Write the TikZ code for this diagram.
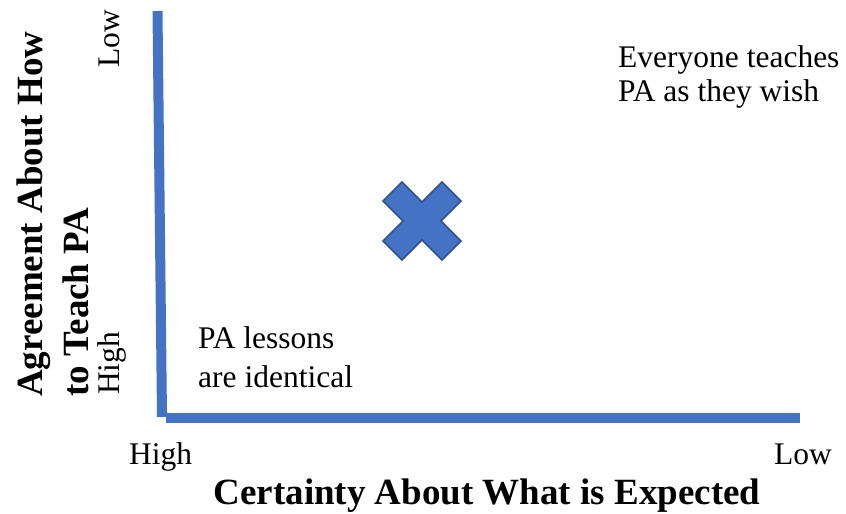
\documentclass[tikz,border=0pt]{standalone}
\usepackage{fontspec}
\setmainfont{Liberation Serif}
\definecolor{axisblue}{HTML}{4472C4}
\definecolor{crossedge}{HTML}{2F528F}
\begin{document}
\begin{tikzpicture}[x=1pt,y=-1pt,
  axisline/.style={draw=axisblue,line width=10pt,line cap=butt},
  plain/.style={inner sep=0pt,font=\fontsize{31.5}{33.3}\selectfont,align=left},
  title/.style={inner sep=0pt,font=\fontsize{37}{46}\selectfont\bfseries,align=left},
  crossmark/.style={fill=axisblue,draw=crossedge,line width=1.5pt,line join=miter}]
\useasboundingbox (0,0) rectangle (846,514);
% axes
\coordinate (ytop) at (157.5,11);
\coordinate (ybot) at (162,417);
\coordinate (xl) at (166,418);
\coordinate (xr) at (800,418);
\draw[axisline] (ytop) -- (ybot);
\draw[axisline] (xl) -- (xr);
% cross
\coordinate (c) at (422,221);
\draw[crossmark] ([shift={(0,-19)}]c) -- ([shift={(20,-39)}]c) -- ([shift={(39,-20)}]c)
  -- ([shift={(19,0)}]c) -- ([shift={(39,20)}]c) -- ([shift={(20,39)}]c)
  -- ([shift={(0,19)}]c) -- ([shift={(-20,39)}]c) -- ([shift={(-39,20)}]c)
  -- ([shift={(-19,0)}]c) -- ([shift={(-39,-20)}]c) -- ([shift={(-20,-39)}]c) -- cycle;
% texts
\node[plain,anchor=base west] (everyone) at (618,101) {Everyone teaches\\PA as they wish};
\node[plain,anchor=base west,font=\fontsize{31.5}{38.7}\selectfont] (lessons) at (198,387) {PA lessons\\are identical};
\node[plain,anchor=base west] (xhigh) at (129,464) {High};
\node[plain,anchor=base east] (xlow) at (832,464) {Low};
\node[title,anchor=base,font=\fontsize{37}{40}\selectfont\bfseries] (xtitle) at (487,504) {Certainty About What is Expected};
\node[title,anchor=base west,rotate=90] (ytitle) at (88,397) {Agreement About How\\to Teach PA};
\node[plain,anchor=base west,rotate=90] (yhigh) at (119,395) {High};
\node[plain,anchor=base west,rotate=90] (ylow) at (119,68) {Low};
\end{tikzpicture}
\end{document}
